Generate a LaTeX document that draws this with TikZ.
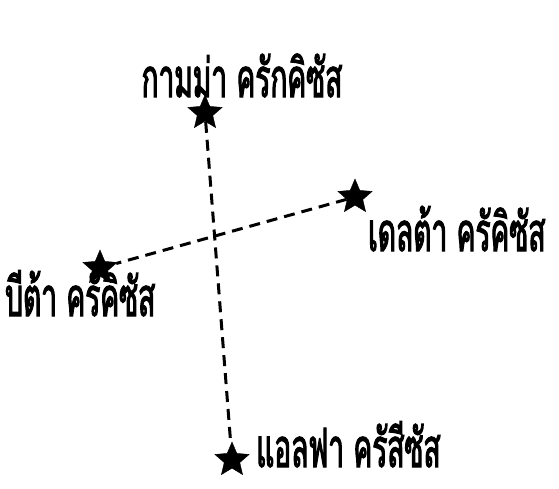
\documentclass[tikz,border=0pt]{standalone}
\usepackage{fontspec}
\newfontfamily\thaifont[Script=Thai,FakeStretch=0.52,FakeBold=2]{Loma}
\usetikzlibrary{shapes.geometric}
\tikzset{
  starmark/.style={star, star points=5, star point ratio=2.2, fill=black, draw=black, minimum size=36pt, inner sep=0pt},
  lbl/.style={font=\thaifont\fontsize{54}{54}\selectfont, inner sep=0pt},
  dashline/.style={line width=3pt, dash pattern=on 11pt off 7pt}
}
\begin{document}
\begin{tikzpicture}[x=1pt,y=-1pt]
\useasboundingbox (0,0) rectangle (559,488);
\node[starmark] (gamma) at (205,113) {};
\node[starmark] (delta) at (355,197) {};
\node[starmark] (beta) at (100,268) {};
\node[starmark] (alpha) at (232,460) {};
\draw[dashline] (gamma) -- (alpha);
\draw[dashline] (delta) -- (beta);
\node[lbl, anchor=base] (lgamma) at (242,97) {กามม่า ครักคิซัส};
\node[lbl, anchor=base west] (ldelta) at (368,251) {เดลต้า ครัคิซัส};
\node[lbl, anchor=base west] (lbeta) at (5,316) {บีต้า ครัคิซัส};
\node[lbl, anchor=base west] (lalpha) at (256,467) {แอลฟา ครัสีซัส};
\end{tikzpicture}
\end{document}
